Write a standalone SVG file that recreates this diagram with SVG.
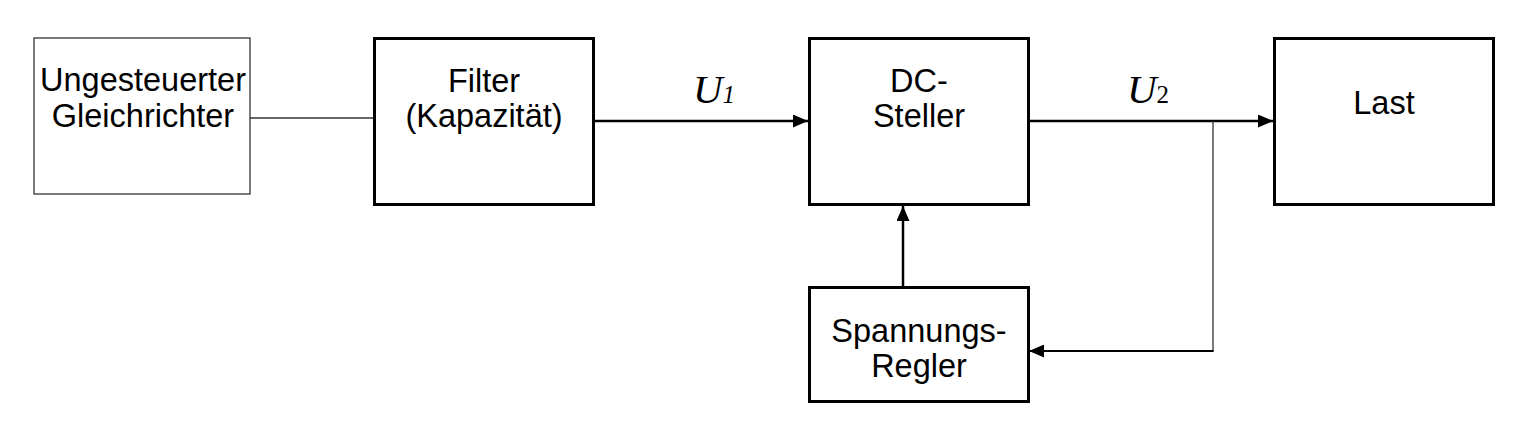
<svg xmlns="http://www.w3.org/2000/svg" width="1524" height="427" viewBox="0 0 1524 427">
<style>
.box{fill:#fff;stroke:#000;stroke-width:3}
.thin{fill:#fff;stroke:#333;stroke-width:1.3}
.lbl{font-family:"Liberation Sans",Arial,sans-serif;font-size:32.5px;fill:#000;text-anchor:middle}
.var{font-family:"Liberation Serif","Times New Roman",serif;fill:#000}
.ln{fill:none;stroke:#000;stroke-width:2.5}
.tl{fill:none;stroke:#333;stroke-width:1.3}
</style>
<defs>
<marker id="ah" viewBox="0 0 15 13" refX="15" refY="6.5" markerWidth="15" markerHeight="13" markerUnits="userSpaceOnUse" orient="auto">
<path d="M0,0 L15,6.5 L0,13 Z" fill="#000"/>
</marker>
</defs>
<rect width="1524" height="427" fill="#fff"/>
<g id="connectors">
<line class="tl" x1="250" y1="118" x2="374" y2="118"/>
<line class="ln" x1="594" y1="121" x2="808" y2="121" marker-end="url(#ah)"/>
<line class="ln" x1="1029" y1="121" x2="1273" y2="121" marker-end="url(#ah)"/>
<polyline class="tl" points="1213,121 1213,351"/>
<line class="ln" style="stroke-width:2" x1="1213.6" y1="351" x2="1029" y2="351" marker-end="url(#ah)"/>
<line class="ln" x1="903" y1="287" x2="903" y2="206" marker-end="url(#ah)"/>
<text class="var" x="693" y="103" font-size="41" font-style="italic">U<tspan font-size="25">1</tspan></text>
<text class="var" x="1127" y="103" font-size="41" font-style="italic">U<tspan font-size="25" font-style="normal">2</tspan></text>
</g>
<g id="gleichrichter">
<rect class="thin" x="34" y="38" width="216" height="156"/>
<text class="lbl" x="143" y="91">Ungesteuerter</text>
<text class="lbl" x="143" y="127">Gleichrichter</text>
</g>
<g id="filter">
<rect class="box" x="374.5" y="38.5" width="219" height="166"/>
<text class="lbl" x="484" y="92">Filter</text>
<text class="lbl" x="484" y="127">(Kapazität)</text>
</g>
<g id="dcsteller">
<rect class="box" x="809.5" y="38.5" width="219" height="166"/>
<text class="lbl" x="919" y="92">DC-</text>
<text class="lbl" x="919" y="127">Steller</text>
</g>
<g id="last">
<rect class="box" x="1274.5" y="38.5" width="219" height="166"/>
<text class="lbl" x="1384" y="114">Last</text>
</g>
<g id="regler">
<rect class="box" x="809.5" y="287.5" width="219" height="114"/>
<text class="lbl" x="919" y="342">Spannungs-</text>
<text class="lbl" x="919" y="377">Regler</text>
</g>
</svg>
